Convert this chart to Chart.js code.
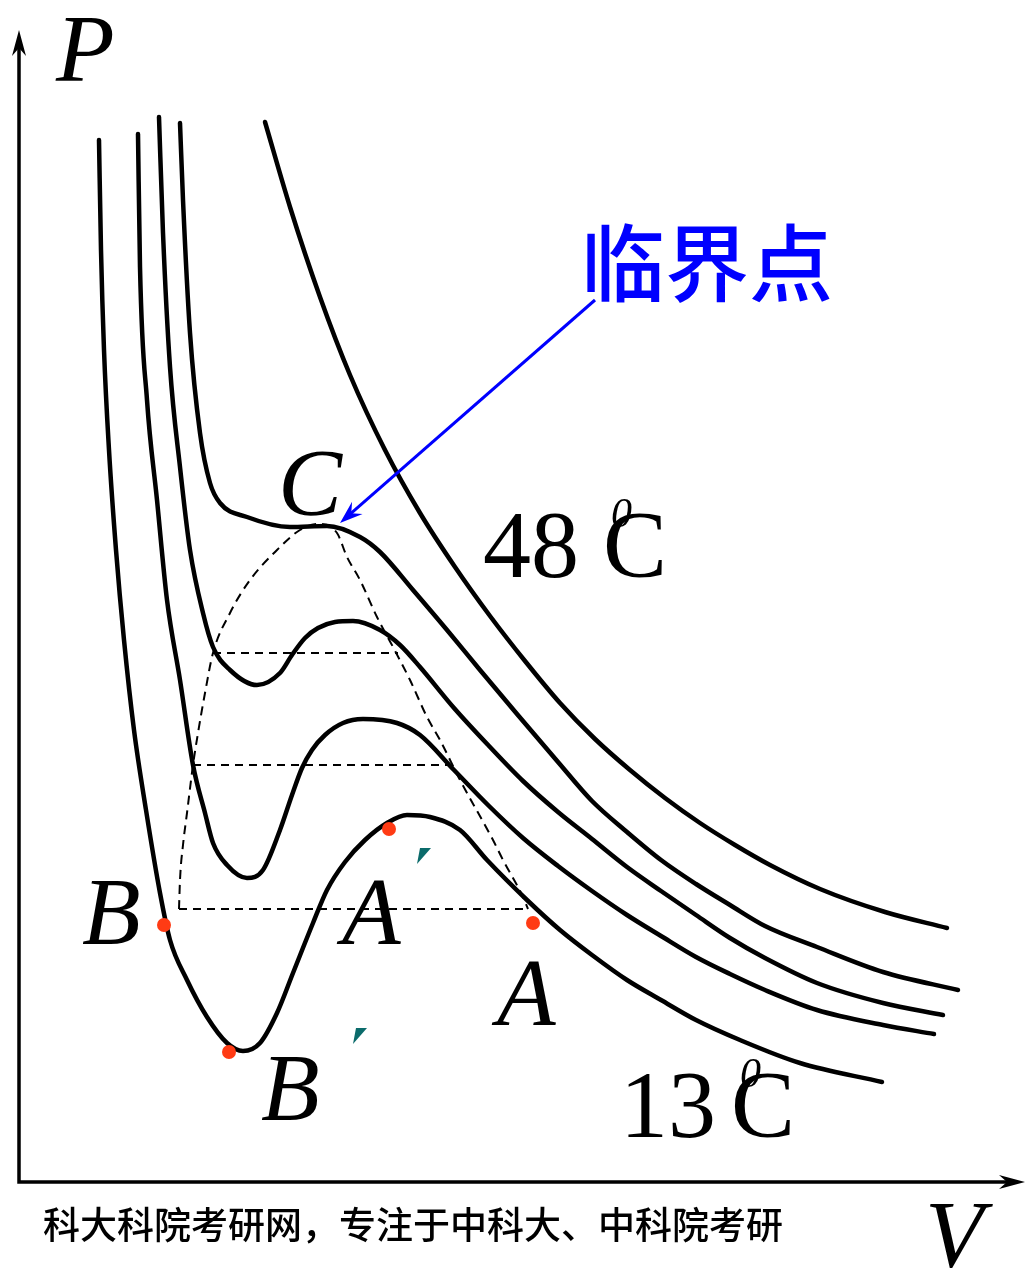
<!DOCTYPE html>
<html>
<head>
<meta charset="utf-8">
<title>P-V isotherms</title>
<script src="https://cdn.jsdelivr.net/npm/chart.js@4.4.0/dist/chart.umd.min.js"></script>
<style>
  html, body { margin: 0; padding: 0; background: #fff; }
  canvas { display: block; }
</style>
</head>
<body>
<canvas id="pv" width="1028" height="1268"></canvas>
<script>
// Isotherms of CO2, V and P in arbitrary units measured from the axis corner
// 13 C isotherm (lowest)
const v13 = [80, 82, 85, 90, 97, 105, 115, 127, 141, 151, 168, 188, 208, 224, 241, 258, 274, 294, 308, 326, 346, 368, 388, 411, 441, 468, 508, 541, 573, 608, 642, 677, 721, 781, 863];
const p13 = [1042, 932, 832, 732, 632, 542, 452, 372, 289, 242, 202, 165, 139, 131, 139, 169, 209, 259, 292, 320, 342, 359, 367, 365, 352, 322, 282, 252, 227, 202, 182, 162, 142, 119, 100];
// two intermediate isotherms
const vT2 = [119, 121, 128, 138, 148, 161, 174, 186, 194, 208, 228, 244, 261, 273, 283, 293, 306, 324, 344, 378, 401, 435, 470, 504, 539, 573, 608, 642, 677, 711, 746, 798, 864, 915];
const pT2 = [1048, 915, 782, 682, 582, 502, 417, 369, 339, 317, 304, 312, 352, 387, 414, 432, 447, 459, 463, 459, 447, 412, 376, 344, 316, 291, 267, 246, 225, 208, 192, 172, 157, 148];
const vT3 = [140, 144, 151, 161, 171, 184, 194, 211, 238, 261, 273, 286, 299, 316, 334, 361, 381, 401, 435, 470, 504, 539, 573, 608, 642, 677, 711, 746, 798, 864, 924];
const pT3 = [1065, 949, 815, 715, 632, 569, 535, 512, 497, 509, 527, 544, 554, 560, 561, 552, 537, 515, 474, 436, 401, 370, 343, 315, 291, 267, 244, 224, 199, 179, 167];
// critical isotherm through C
const vCrit = [161, 164, 171, 181, 191, 201, 228, 271, 308, 341, 361, 394, 428, 461, 498, 539, 573, 608, 642, 677, 711, 746, 798, 864, 939];
const pCrit = [1059, 982, 849, 749, 699, 679, 665, 655, 656, 645, 630, 592, 552, 512, 468, 420, 381, 350, 322, 298, 277, 256, 235, 210, 192];
// 48 C isotherm (top)
const v48 = [246, 271, 301, 331, 366, 401, 436, 471, 506, 541, 576, 611, 646, 681, 716, 751, 801, 866, 928];
const p48 = [1060, 975, 885, 807, 732, 669, 615, 566, 521, 479, 443, 412, 384, 359, 337, 317, 293, 270, 254];

// saturation dome
const vDome = [160, 161, 164, 168, 174, 179, 186, 194, 211, 231, 258, 281, 299, 318, 328, 341, 358, 374, 391, 408, 421, 441, 474, 484, 504, 509];
const pDome = [273, 302, 337, 369, 417, 449, 489, 529, 569, 602, 632, 652, 658, 649, 625, 602, 565, 535, 502, 465, 442, 402, 342, 322, 285, 273];

// horizontal tie lines: start V, end V, pressure
const tieStart = [194, 174, 160];
const tieEnd = [379, 430, 509];
const tieP = [529, 417, 273];

// marked states B, B', A', A
const dotV = [145, 210, 370, 514];
const dotP = [257, 130, 353, 259];

const pts = (vs, ps) => vs.map((v, i) => ({ x: v, y: ps[i] }));

function isotherm(vs, ps) {
  return {
    data: pts(vs, ps), showLine: true, borderColor: '#000', borderWidth: 4.5,
    pointRadius: 0, cubicInterpolationMode: 'monotone', borderCapStyle: 'round', borderJoinStyle: 'round', fill: false
  };
}

const datasets = [];
datasets.push({
  data: pts(dotV, dotP), showLine: false, pointRadius: 7, pointHoverRadius: 7,
  backgroundColor: '#ff3b14', borderWidth: 0
});
[[v13, p13], [vT2, pT2], [vT3, pT3], [vCrit, pCrit], [v48, p48]].forEach(c => datasets.push(isotherm(c[0], c[1])));
datasets.push({
  data: pts(vDome, pDome), showLine: true, borderColor: '#000', borderWidth: 2,
  borderDash: [9, 6], pointRadius: 0, cubicInterpolationMode: 'monotone'
});
tieP.forEach((p, i) => datasets.push({
  data: pts([tieStart[i], tieEnd[i]], [p, p]), showLine: true, borderColor: '#000',
  borderWidth: 2, borderDash: [8, 6], pointRadius: 0
}));

const serif = "'Liberation Serif', 'Times New Roman', serif";
// text placed in data units
const texts = [
  { t: 'P', v: 37, p: 1101, font: 'italic 96px ' + serif },
  { t: 'V', v: 906, p: -85, font: 'italic 96px ' + serif },
  { t: 'C', v: 259, p: 667, font: 'italic 96px ' + serif },
  { t: 'B', v: 63, p: 238, font: 'italic 96px ' + serif },
  { t: 'A', v: 323, p: 238, font: 'italic 96px ' + serif },
  { t: 'A', v: 478, p: 157, font: 'italic 96px ' + serif },
  { t: 'B', v: 242, p: 62, font: 'italic 96px ' + serif },
  { t: '48', v: 464, p: 605, font: '96px ' + serif },
  { t: 'C', v: 584, p: 605, font: '96px ' + serif },
  { t: '0', v: 592, p: 655, font: 'italic 42px ' + serif },
  { t: '13', v: 601, p: 45, font: '96px ' + serif },
  { t: 'C', v: 712, p: 45, font: '96px ' + serif },
  { t: '0', v: 721, p: 95, font: 'italic 42px ' + serif }
];

const overlay = {
  id: 'overlay',
  afterDatasetsDraw(chart) {
    const ctx = chart.ctx;
    const X = v => chart.scales.x.getPixelForValue(v);
    const Y = p => chart.scales.y.getPixelForValue(p);
    ctx.save();

    // axes with arrow heads
    ctx.strokeStyle = '#000';
    ctx.fillStyle = '#000';
    ctx.lineWidth = 3.5;
    ctx.beginPath();
    ctx.moveTo(X(0), Y(1140));
    ctx.lineTo(X(0), Y(0));
    ctx.lineTo(X(995), Y(0));
    ctx.stroke();
    ctx.beginPath();
    ctx.moveTo(X(0), Y(1152));
    ctx.lineTo(X(-7), Y(1126));
    ctx.lineTo(X(0), Y(1134));
    ctx.lineTo(X(7), Y(1126));
    ctx.closePath();
    ctx.fill();
    ctx.beginPath();
    ctx.moveTo(X(1006), Y(0));
    ctx.lineTo(X(980), Y(7));
    ctx.lineTo(X(988), Y(0));
    ctx.lineTo(X(980), Y(-7));
    ctx.closePath();
    ctx.fill();

    // pointer to the critical point
    const x0 = X(576), y0 = Y(882), x1 = X(321), y1 = Y(659);
    const len = Math.hypot(x1 - x0, y1 - y0);
    const ux = (x1 - x0) / len, uy = (y1 - y0) / len;
    ctx.strokeStyle = '#0000ff';
    ctx.fillStyle = '#0000ff';
    ctx.lineWidth = 3;
    ctx.beginPath();
    ctx.moveTo(x0, y0);
    ctx.lineTo(x1 - ux * 10, y1 - uy * 10);
    ctx.stroke();
    ctx.beginPath();
    ctx.moveTo(x1, y1);
    ctx.lineTo(x1 - ux * 23 - uy * 8, y1 - uy * 23 + ux * 8);
    ctx.lineTo(x1 - ux * 15, y1 - uy * 15);
    ctx.lineTo(x1 - ux * 23 + uy * 8, y1 - uy * 23 - ux * 8);
    ctx.closePath();
    ctx.fill();

    ctx.font = "500 84px 'Noto Sans CJK SC'";
    ctx.textAlign = 'center';
    ctx.textBaseline = 'middle';
    ctx.fillText('临界点', X(688), Y(919));

    // labels
    ctx.fillStyle = '#000';
    ctx.textAlign = 'left';
    ctx.textBaseline = 'alphabetic';
    texts.forEach(d => {
      ctx.font = d.font;
      ctx.fillText(d.t, X(d.v), Y(d.p));
    });

    // prime marks for A' and B'
    ctx.fillStyle = '#0b6b6b';
    [[404, 327], [340, 147]].forEach(m => {
      const mx = X(m[0]), my = Y(m[1]);
      ctx.beginPath();
      ctx.moveTo(mx - 3, my - 7);
      ctx.lineTo(mx + 8, my - 7);
      ctx.lineTo(mx - 6, my + 9);
      ctx.closePath();
      ctx.fill();
    });

    ctx.fillStyle = '#000';
    ctx.font = "500 37px 'Noto Sans CJK SC'";
    ctx.textBaseline = 'middle';
    ctx.fillText('科大科院考研网，专注于中科大、中科院考研', X(24), Y(-43));
    ctx.restore();
  }
};

new Chart(document.getElementById('pv'), {
  type: 'scatter',
  data: { datasets: datasets },
  options: {
    responsive: false,
    animation: false,
    layout: { padding: 0, autoPadding: false },
    plugins: { legend: { display: false }, tooltip: { enabled: false } },
    scales: {
      x: { type: 'linear', display: false, min: -19, max: 1009 },
      y: { type: 'linear', display: false, min: -86, max: 1182 }
    }
  },
  plugins: [overlay]
});
</script>
</body>
</html>
